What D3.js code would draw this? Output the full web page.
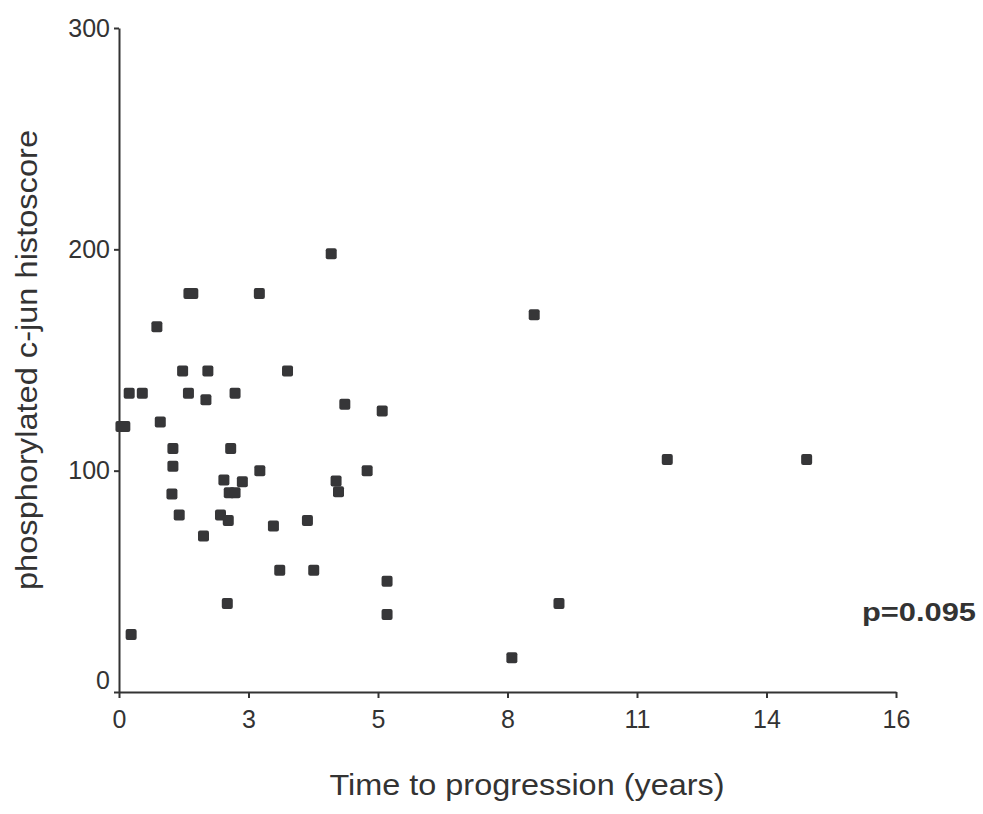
<!DOCTYPE html>
<html>
<head>
<meta charset="utf-8">
<script src="https://cdn.jsdelivr.net/npm/d3@7"></script>
<style>
  html, body { margin: 0; padding: 0; background: #fff; }
  svg { display: block; }
  text { font-family: "Liberation Sans", Arial, sans-serif; fill: #333; }
</style>
</head>
<body>
<svg id="chart" width="983" height="814"></svg>
<script>
// Time to progression (axis units) and phosphorylated c-jun histoscore per patient
const timeToProgression = [
  0.04, 0.12, 0.21, 0.48, 0.25, 0.78, 0.85, 1.11, 1.11, 1.09,
  1.24, 1.31, 1.43, 1.44, 1.52, 1.74, 1.79, 1.83, 2.09, 2.16,
  2.23, 2.25, 2.27, 2.39, 2.30, 2.39, 2.54, 2.89, 2.90, 3.18,
  3.31, 3.47, 3.88, 4.01, 4.37, 4.47, 4.52, 4.65, 5.11, 5.42,
  5.52, 5.52, 8.09, 8.55, 9.06, 11.29, 14.16
];
const histoscore = [
  120, 120, 135, 135, 26, 165, 122, 110, 102, 89.5,
  80, 145, 135, 180, 180, 70.5, 132, 145, 80, 95.8,
  40, 77.5, 90, 90, 110, 135, 95, 180, 100, 75,
  55, 145, 77.5, 55, 198, 95.3, 90.5, 130, 100, 127,
  50, 35, 15.5, 170.5, 40, 105, 105
];

const xTickLabels = ["0", "3", "5", "8", "11", "14", "16"];
const yTickValues = [0, 100, 200, 300];
const pValueText = "p=0.095";
const xTitle = "Time to progression (years)";
const yTitle = "phosphorylated c-jun histoscore";

const points = timeToProgression.map((t, i) => ({ t, h: histoscore[i] }));

const svg = d3.select("#chart");
const plotLeft = 119, plotRight = 896, plotTop = 28, plotBottom = 692;

const x = d3.scaleLinear().domain([0, 16]).range([plotLeft, plotRight]);
const y = d3.scaleLinear().domain([0, 300]).range([plotBottom, plotTop]);

const xTickValues = xTickLabels.map((_, i) => i * 16 / (xTickLabels.length - 1));

// x axis
const gx = svg.append("g")
  .attr("transform", `translate(0,${plotBottom})`)
  .call(d3.axisBottom(x)
    .tickValues(xTickValues)
    .tickFormat((d, i) => xTickLabels[i])
    .tickSize(6)
    .tickPadding(12)
    .tickSizeOuter(0));

// y axis
const gy = svg.append("g")
  .attr("transform", `translate(${plotLeft},0)`)
  .call(d3.axisLeft(y)
    .tickValues(yTickValues)
    .tickFormat(d3.format("d"))
    .tickSize(5)
    .tickPadding(4)
    .tickSizeOuter(0));

[gx, gy].forEach(g => {
  g.select(".domain").attr("stroke", "#333").attr("stroke-width", 2);
  g.selectAll(".tick line").attr("stroke", "#333").attr("stroke-width", 2);
  g.selectAll(".tick text")
    .attr("font-size", 25)
    .attr("font-family", "Liberation Sans, Arial, sans-serif")
    .attr("fill", "#333");
});
// the zero label on the y axis sits a little above its tick
gy.selectAll(".tick text").filter(d => d === 0).attr("dy", "-0.15em");

// data markers
const size = 11;
svg.append("g")
  .selectAll("rect")
  .data(points)
  .join("rect")
  .attr("x", d => x(d.t) - size / 2)
  .attr("y", d => y(d.h) - size / 2)
  .attr("width", size)
  .attr("height", size)
  .attr("rx", 2)
  .attr("fill", "#363638");

// axis titles
svg.append("text")
  .attr("x", 527)
  .attr("y", 795)
  .attr("text-anchor", "middle")
  .attr("font-size", 30)
  .attr("textLength", 395)
  .attr("lengthAdjust", "spacingAndGlyphs")
  .text(xTitle);

svg.append("text")
  .attr("transform", "translate(37,360) rotate(-90)")
  .attr("text-anchor", "middle")
  .attr("font-size", 30)
  .attr("textLength", 460)
  .attr("lengthAdjust", "spacingAndGlyphs")
  .text(yTitle);

// correlation p-value
svg.append("text")
  .attr("x", 976)
  .attr("y", 621)
  .attr("text-anchor", "end")
  .attr("font-size", 26)
  .attr("font-weight", "bold")
  .attr("textLength", 114)
  .attr("lengthAdjust", "spacingAndGlyphs")
  .text(pValueText);
</script>
</body>
</html>
